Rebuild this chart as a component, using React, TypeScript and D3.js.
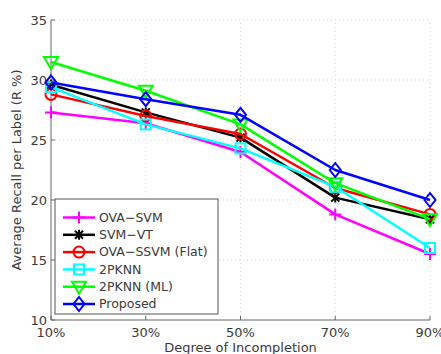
import * as d3 from 'd3';

const incompletion = [10, 30, 50, 70, 90];
const xTickLabels = ['10%', '30%', '50%', '70%', '90%'];
const yTicks = [10, 15, 20, 25, 30, 35];

const ovaSvm = [27.3, 26.4, 24.0, 18.8, 15.5];
const svmVt = [29.6, 27.3, 25.2, 20.2, 18.4];
const ovaSsvmFlat = [28.8, 27.0, 25.5, 21.0, 18.8];
const twoPknn = [29.4, 26.3, 24.3, 21.1, 16.0];
const twoPknnMl = [31.5, 29.1, 26.3, 21.4, 18.4];
const proposed = [29.8, 28.4, 27.1, 22.5, 20.0];

const series = [
  { name: 'OVA\u2212SVM', values: ovaSvm, color: '#ff00ff', marker: 'plus' },
  { name: 'SVM\u2212VT', values: svmVt, color: '#000000', marker: 'star' },
  { name: 'OVA\u2212SSVM (Flat)', values: ovaSsvmFlat, color: '#ff0000', marker: 'circle' },
  { name: '2PKNN', values: twoPknn, color: '#00ffff', marker: 'square' },
  { name: '2PKNN (ML)', values: twoPknnMl, color: '#00ff00', marker: 'triangle' },
  { name: 'Proposed', values: proposed, color: '#0000ff', marker: 'diamond' },
];

const W = 441;
const H = 354;
const margin = { left: 51, right: 11, top: 20, bottom: 34 };
const FONT = 'DejaVu Sans, Verdana, sans-serif';
const TEXT = '#3a3a3a';

function Marker({ kind, x, y, color }: { kind: string; x: number; y: number; color: string }) {
  const sw = 2;
  if (kind === 'plus') {
    return <path d={`M${x - 6},${y}H${x + 6}M${x},${y - 6}V${y + 6}`} stroke={color} strokeWidth={sw} fill="none" />;
  }
  if (kind === 'star') {
    const r = 4;
    return (
      <path
        d={`M${x - r},${y - r}L${x + r},${y + r}M${x - r},${y + r}L${x + r},${y - r}M${x},${y - r - 1}V${y + r + 1}`}
        stroke={color}
        strokeWidth={sw}
        fill="none"
      />
    );
  }
  if (kind === 'circle') {
    return <circle cx={x} cy={y} r={5.5} stroke={color} strokeWidth={sw} fill="none" />;
  }
  if (kind === 'square') {
    return <rect x={x - 5} y={y - 5} width={10} height={10} stroke={color} strokeWidth={sw} fill="none" />;
  }
  if (kind === 'triangle') {
    return <path d={`M${x - 7},${y - 5}L${x + 7},${y - 5}L${x},${y + 7}Z`} stroke={color} strokeWidth={sw} fill="none" />;
  }
  // diamond
  return <path d={`M${x},${y - 7}L${x + 5.5},${y}L${x},${y + 7}L${x - 5.5},${y}Z`} stroke={color} strokeWidth={sw} fill="none" />;
}

export default function App() {
  const x = d3.scaleLinear().domain([10, 90]).range([margin.left, W - margin.right]);
  const y = d3.scaleLinear().domain([10, 35]).range([H - margin.bottom, margin.top]);

  const line = d3
    .line<number>()
    .x((_, i) => x(incompletion[i]))
    .y((d) => y(d));

  const x0 = x(10);
  const x1 = x(90);
  const y0 = y(10);
  const y1 = y(35);

  // legend box
  const lg = { x: 55, y: 199, w: 163, h: 115 };
  const rowH = 17.3;

  return (
    <svg
      width={W}
      height={H}
      style={{ position: 'absolute', left: 0, top: 0, background: '#fff' }}
      fontFamily={FONT}
    >
      {/* grid */}
      {yTicks.filter((t) => t > 10).map((t) => (
        <line key={'gy' + t} x1={x0} x2={x1} y1={y(t)} y2={y(t)} stroke="#d8d8d8" strokeDasharray="1,3" />
      ))}
      {incompletion.slice(1).map((t) => (
        <line key={'gx' + t} x1={x(t)} x2={x(t)} y1={y0} y2={y1} stroke="#d8d8d8" strokeDasharray="1,3" />
      ))}

      {/* axes */}
      <line x1={x0} x2={x0} y1={y0} y2={y1} stroke="#666" strokeWidth={1} />
      <line x1={x0} x2={x1} y1={y0} y2={y0} stroke="#666" strokeWidth={1} />
      {yTicks.map((t) => (
        <g key={'ty' + t}>
          <line x1={x0} x2={x0 + 4} y1={y(t)} y2={y(t)} stroke="#666" />
          <text x={x0 - 4} y={y(t)} dy="0.35em" textAnchor="end" fontSize={13} fill={TEXT}>
            {t}
          </text>
        </g>
      ))}
      {incompletion.map((t, i) => (
        <g key={'tx' + t}>
          <line x1={x(t)} x2={x(t)} y1={y0} y2={y0 - 4} stroke="#666" />
          <text x={x(t)} y={y0 + 17} textAnchor="middle" fontSize={13} fill={TEXT}>
            {xTickLabels[i]}
          </text>
        </g>
      ))}
      <text x={(x0 + x1) / 2} y={352} textAnchor="middle" fontSize={13} fill={TEXT}>
        Degree of Incompletion
      </text>
      <text
        transform={`translate(21,${(y0 + y1) / 2}) rotate(-90)`}
        textAnchor="middle"
        fontSize={13}
        fill={TEXT}
      >
        Average Recall per Label (R %)
      </text>

      {/* series */}
      {series.map((s) => (
        <g key={s.name}>
          <path d={line(s.values) || ''} fill="none" stroke={s.color} strokeWidth={2.5} strokeLinejoin="round" />
          {s.values.map((v, i) => (
            <Marker key={i} kind={s.marker} x={x(incompletion[i])} y={y(v)} color={s.color} />
          ))}
        </g>
      ))}

      {/* legend */}
      <rect x={lg.x} y={lg.y} width={lg.w} height={lg.h} fill="#fff" stroke="#555" strokeWidth={1} />
      {series.map((s, i) => {
        const cy = lg.y + 18.5 + i * rowH;
        return (
          <g key={'lg' + s.name}>
            <line x1={63} x2={95} y1={cy} y2={cy} stroke={s.color} strokeWidth={2.5} />
            <Marker kind={s.marker} x={79} y={cy} color={s.color} />
            <text x={99} y={cy} dy="0.35em" fontSize={12.5} fill={TEXT}>
              {s.name}
            </text>
          </g>
        );
      })}
    </svg>
  );
}
